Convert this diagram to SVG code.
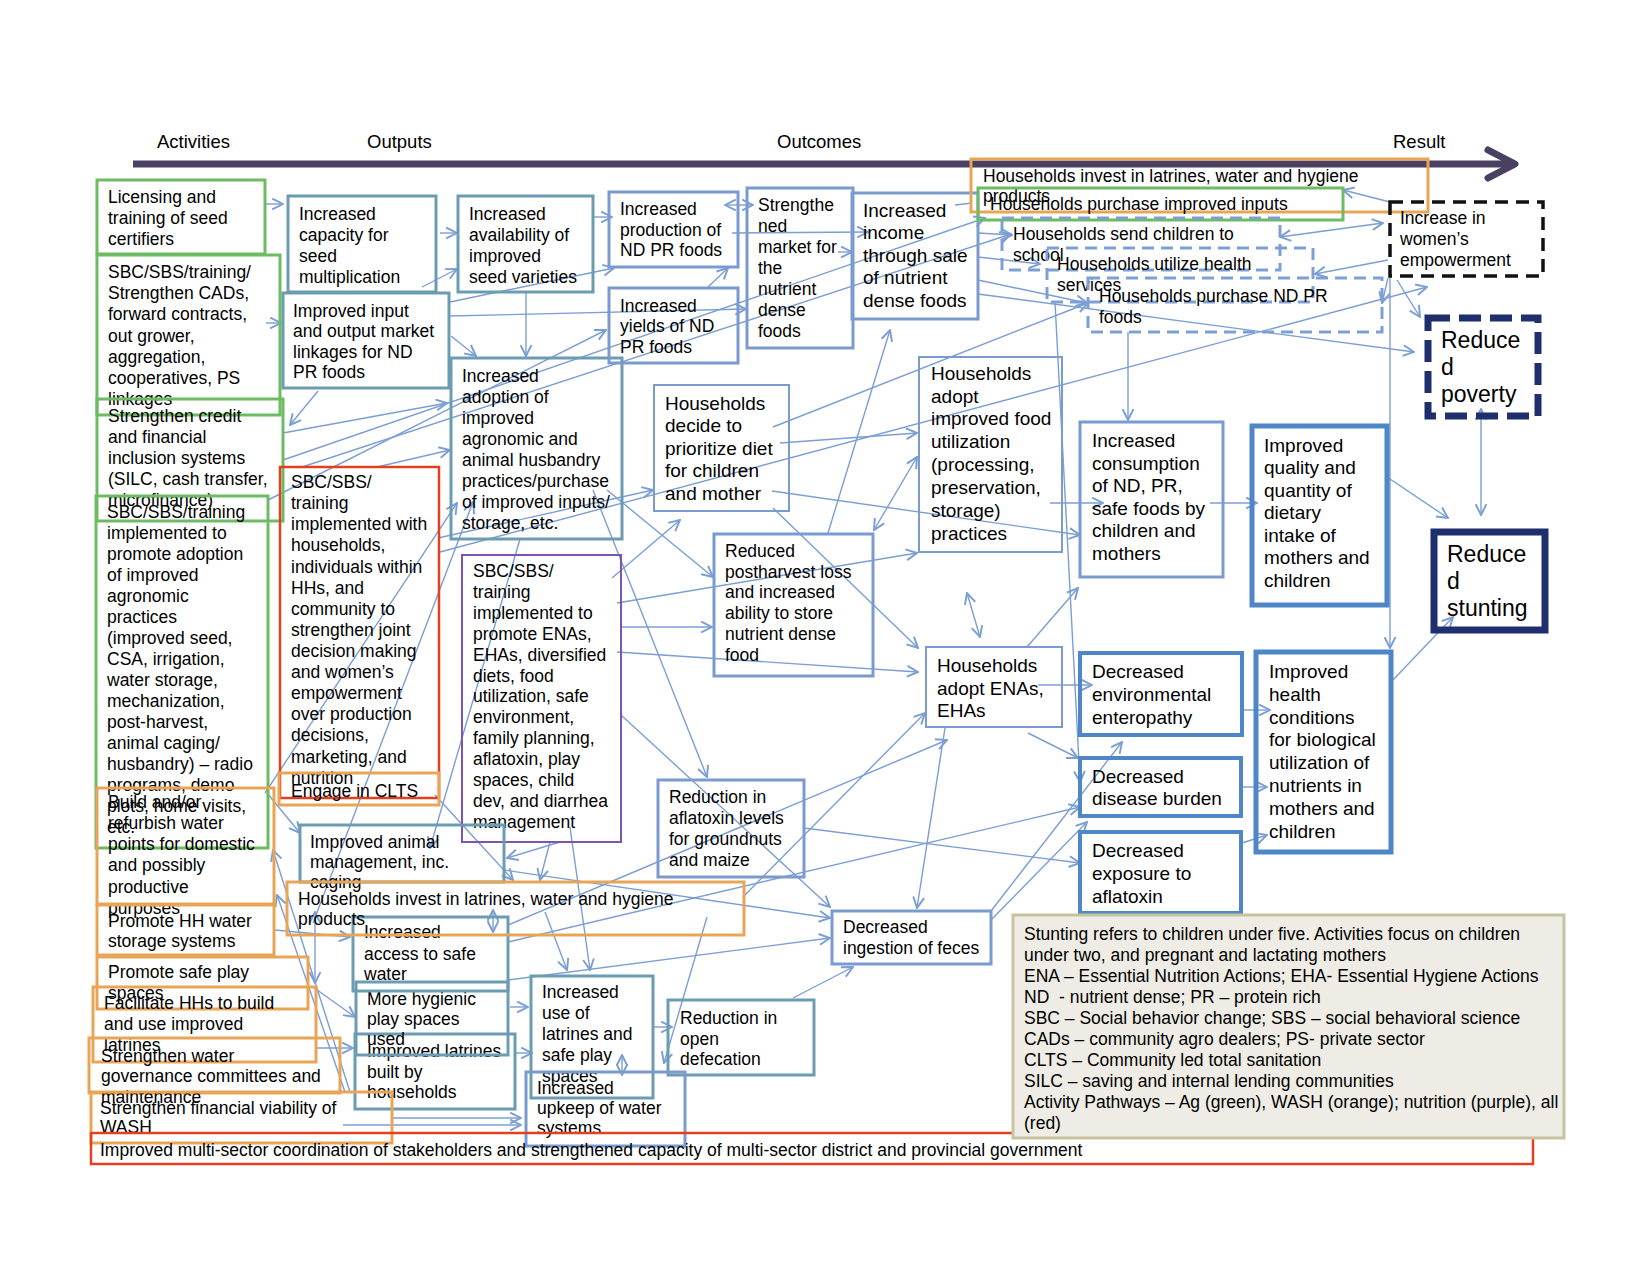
<svg xmlns="http://www.w3.org/2000/svg" width="1650" height="1275" viewBox="0 0 1650 1275">
<style>
.t{font-family:"Liberation Sans",Arial,Helvetica,sans-serif;font-size:17.5px;fill:#000}
.t19{font-size:19px}
.t23{font-size:23px}
.hd{font-size:18.5px}
.b{fill:none}
.g{stroke:#6dbb62;stroke-width:3}
.tl{stroke:#6b9cb1;stroke-width:3}
.bl{stroke:#7b9ad0;stroke-width:3}
.bl2{stroke:#7b9ad0;stroke-width:2}
.tb{stroke:#4f86c8;stroke-width:5}
.mb{stroke:#4f86c8;stroke-width:4}
.or{stroke:#e9a557;stroke-width:3}
.rd{stroke:#e2401f;stroke-width:2.5}
.pu{stroke:#7c55b4;stroke-width:2}
.ds{stroke:#7e9fd4;stroke-width:3;stroke-dasharray:12 7}
.bk{stroke:#111;stroke-width:3.5;stroke-dasharray:13 8}
.nv{stroke:#1f2f6e;stroke-width:7}
.nvd{stroke:#1f2f6e;stroke-width:7;stroke-dasharray:22 9}
.c path{stroke:#7b9ed3;stroke-width:1.4;fill:none;marker-end:url(#a)}
.c path.d{marker-start:url(#a)}
.c path.n{marker-end:none}
</style>
<defs>
<marker id="a" viewBox="0 0 12 12" refX="11" refY="6" markerWidth="13" markerHeight="13" markerUnits="userSpaceOnUse" orient="auto-start-reverse">
<path d="M1,1 L11,6 L1,11" fill="none" stroke="#7b9ed3" stroke-width="1.8"/>
</marker>
</defs>
<rect width="1650" height="1275" fill="#fff"/>

<g id="header">
<line x1="133" y1="164" x2="1512" y2="164" stroke="#4a4062" stroke-width="7"/>
<polyline points="1488,150 1515,164 1488,178" fill="none" stroke="#4a4062" stroke-width="7" stroke-linecap="round" stroke-linejoin="round"/>
<text class="t hd" x="157" y="148">Activities</text>
<text class="t hd" x="367" y="148">Outputs</text>
<text class="t hd" x="777" y="148">Outcomes</text>
<text class="t hd" x="1393" y="148">Result</text>
</g>

<g id="connectors" class="c">
<path d="M266,204 L283,204"/>
<path d="M266,323 L281,323"/>
<path d="M440,233 L457,233"/>
<path d="M422,287 L457,269"/>
<path d="M593,217 L612,217"/>
<path d="M450,302 L614,268"/>
<path d="M450,316 L746,309"/>
<path d="M451,336 L476,356"/>
<path d="M526,293 L526,356"/>
<path d="M318,391 L290,425"/>
<path d="M268,500 L606,330"/>
<path d="M708,287 L728,268"/>
<path class="d" d="M725,205 L753,205"/>
<path d="M732,233 L868,232"/>
<path d="M838,252 L852,252"/>
<path d="M283,433 L447,403"/>
<path d="M283,460 L985,218"/>
<path d="M302,467 L1011,234"/>
<path d="M377,467 L450,450"/>
<path d="M438,538 L653,490"/>
<path d="M440,552 L1427,287"/>
<path d="M265,793 L457,503"/>
<path d="M313,923 L473,502"/>
<path d="M520,539 L430,848"/>
<path d="M593,490 L707,777"/>
<path d="M607,490 L713,577"/>
<path d="M612,578 L680,520"/>
<path d="M617,603 L917,553"/>
<path d="M622,627 L712,627"/>
<path d="M617,652 L918,672"/>
<path d="M621,715 L830,907"/>
<path d="M773,508 L918,648"/>
<path d="M772,491 L1080,535"/>
<path d="M780,443 L917,433"/>
<path d="M773,427 L1088,303"/>
<path d="M828,533 L890,330"/>
<path class="d" d="M874,530 L917,457"/>
<path class="d" d="M967,593 L980,637"/>
<path d="M978,233 L1012,235"/>
<path d="M978,257 L1040,264"/>
<path d="M978,280 L1087,303"/>
<path d="M978,294 L1414,352"/>
<path class="n" d="M955,205 L972,203"/>
<path d="M1128,332 L1128,420"/>
<path d="M1055,302 L1080,782"/>
<path d="M1390,276 L1390,648"/>
<path d="M1390,202 L1343,190"/>
<path class="d" d="M1383,223 L1280,237"/>
<path d="M1388,260 L1315,274"/>
<path d="M1388,278 L1382,303"/>
<path d="M1397,280 L1420,317"/>
<path class="d" d="M1481,409 L1481,515"/>
<path d="M1387,477 L1448,518"/>
<path d="M1393,680 L1453,617"/>
<path d="M1050,503 L1103,503"/>
<path d="M1210,503 L1257,503"/>
<path d="M1027,647 L1078,588"/>
<path d="M1038,685 L1092,685"/>
<path d="M1242,710 L1270,710"/>
<path d="M1028,733 L1078,758"/>
<path d="M991,911 L1122,742"/>
<path d="M991,920 L1087,822"/>
<path d="M508,942 L1080,807"/>
<path d="M804,828 L1080,863"/>
<path d="M1242,843 L1267,835"/>
<path d="M1242,787 L1267,787"/>
<path d="M504,870 L830,918"/>
<path d="M508,980 L830,938"/>
<path d="M945,728 L917,908"/>
<path d="M793,998 L853,967"/>
<path d="M707,917 L664,1063"/>
<path d="M653,1027 L672,1027"/>
<path class="d" d="M622,1055 L622,1075"/>
<path d="M545,912 L567,970"/>
<path d="M570,827 L590,970"/>
<path d="M435,795 L513,880"/>
<path d="M550,842 L540,880"/>
<path d="M560,842 L507,858"/>
<path d="M743,897 L925,713"/>
<path d="M508,925 L947,740"/>
<path d="M267,793 L300,833"/>
<path d="M275,930 L350,937"/>
<path d="M313,987 L355,1017"/>
<path d="M316,1048 L353,1048"/>
<path d="M510,1007 L528,1007"/>
<path d="M515,1053 L532,1053"/>
<path class="d" d="M493,910 L493,932"/>
<path d="M391,1118 L521,1118"/>
<path d="M343,1125 L521,1125"/>
<path class="d" d="M315,912 L315,983"/>
<path d="M350,1092 L273,850"/>
<path d="M345,1092 L277,895"/>
</g>

<g id="n-licensing"><rect class="b g" x="97" y="180" width="168" height="74"/>
<text class="t"><tspan x="108" y="203">Licensing and</tspan><tspan x="108" y="224">training of seed</tspan><tspan x="108" y="245">certifiers</tspan></text></g>

<g id="n-cads"><rect class="b g" x="97" y="255" width="183" height="160"/>
<text class="t"><tspan x="108" y="278">SBC/SBS/training/</tspan><tspan x="108" y="299">Strengthen CADs,</tspan><tspan x="108" y="320">forward contracts,</tspan><tspan x="108" y="342">out grower,</tspan><tspan x="108" y="363">aggregation,</tspan><tspan x="108" y="384">cooperatives, PS</tspan><tspan x="108" y="405">linkages</tspan></text></g>

<g id="n-credit"><rect class="b g" x="97" y="399" width="186" height="122"/>
<text class="t"><tspan x="108" y="422">Strengthen credit</tspan><tspan x="108" y="443">and financial</tspan><tspan x="108" y="464">inclusion systems</tspan><tspan x="108" y="485">(SILC, cash transfer,</tspan><tspan x="108" y="506">microfinance)</tspan></text></g>

<g id="n-training"><rect class="b g" x="96" y="496" width="172" height="352"/>
<text class="t"><tspan x="107" y="518">SBC/SBS/training</tspan><tspan x="107" y="539">implemented to</tspan><tspan x="107" y="560">promote adoption</tspan><tspan x="107" y="581">of improved</tspan><tspan x="107" y="602">agronomic</tspan><tspan x="107" y="623">practices</tspan><tspan x="107" y="644">(improved seed,</tspan><tspan x="107" y="665">CSA, irrigation,</tspan><tspan x="107" y="686">water storage,</tspan><tspan x="107" y="707">mechanization,</tspan><tspan x="107" y="728">post-harvest,</tspan><tspan x="107" y="749">animal caging/</tspan><tspan x="107" y="770">husbandry) – radio</tspan><tspan x="107" y="791">programs, demo</tspan><tspan x="107" y="812">plots, home visits,</tspan><tspan x="107" y="833">etc.</tspan></text></g>

<g id="n-capacity"><rect class="b tl" x="288" y="196" width="148" height="96"/>
<text class="t"><tspan x="299" y="220">Increased</tspan><tspan x="299" y="241">capacity for</tspan><tspan x="299" y="262">seed</tspan><tspan x="299" y="283">multiplication</tspan></text></g>

<g id="n-availability"><rect class="b tl" x="458" y="196" width="135" height="96"/>
<text class="t"><tspan x="469" y="220">Increased</tspan><tspan x="469" y="241">availability of</tspan><tspan x="469" y="262">improved</tspan><tspan x="469" y="283">seed varieties</tspan></text></g>

<g id="n-input"><rect class="b tl" x="283" y="293" width="166" height="95"/>
<text class="t"><tspan x="293" y="317">Improved input</tspan><tspan x="293" y="337">and output market</tspan><tspan x="293" y="358">linkages for ND</tspan><tspan x="293" y="378">PR foods</tspan></text></g>

<g id="n-adoption"><rect class="b tl" x="451" y="358" width="171" height="181"/>
<text class="t"><tspan x="462" y="382">Increased</tspan><tspan x="462" y="403">adoption of</tspan><tspan x="462" y="424">improved</tspan><tspan x="462" y="445">agronomic and</tspan><tspan x="462" y="466">animal husbandry</tspan><tspan x="462" y="487">practices/purchase</tspan><tspan x="462" y="508">of improved inputs/</tspan><tspan x="462" y="529">storage, etc.</tspan></text></g>

<g id="n-sbc-households"><rect class="b rd" x="280" y="467" width="159" height="331"/>
<text class="t"><tspan x="291" y="488">SBC/SBS/</tspan><tspan x="291" y="509">training</tspan><tspan x="291" y="530">implemented with</tspan><tspan x="291" y="551">households,</tspan><tspan x="291" y="573">individuals within</tspan><tspan x="291" y="594">HHs, and</tspan><tspan x="291" y="615">community to</tspan><tspan x="291" y="636">strengthen joint</tspan><tspan x="291" y="657">decision making</tspan><tspan x="291" y="678">and women’s</tspan><tspan x="291" y="699">empowerment</tspan><tspan x="291" y="720">over production</tspan><tspan x="291" y="741">decisions,</tspan><tspan x="291" y="763">marketing, and</tspan><tspan x="291" y="784">nutrition</tspan></text></g>

<g id="n-clts"><rect class="b or" x="279" y="773" width="160" height="32"/>
<text class="t" x="291" y="797">Engage in CLTS</text></g>

<g id="n-sbc-ena"><rect class="b pu" x="462" y="555" width="159" height="287"/>
<text class="t"><tspan x="473" y="577">SBC/SBS/</tspan><tspan x="473" y="598">training</tspan><tspan x="473" y="619">implemented to</tspan><tspan x="473" y="640">promote ENAs,</tspan><tspan x="473" y="661">EHAs, diversified</tspan><tspan x="473" y="682">diets, food</tspan><tspan x="473" y="702">utilization, safe</tspan><tspan x="473" y="723">environment,</tspan><tspan x="473" y="744">family planning,</tspan><tspan x="473" y="765">aflatoxin, play</tspan><tspan x="473" y="786">spaces, child</tspan><tspan x="473" y="807">dev, and diarrhea</tspan><tspan x="473" y="828">management</tspan></text></g>

<g id="n-production"><rect class="b bl" x="609" y="192" width="129" height="75"/>
<text class="t"><tspan x="620" y="215">Increased</tspan><tspan x="620" y="236">production of</tspan><tspan x="620" y="256">ND PR foods</tspan></text></g>

<g id="n-yields"><rect class="b bl" x="609" y="288" width="129" height="75"/>
<text class="t"><tspan x="620" y="312">Increased</tspan><tspan x="620" y="332">yields of ND</tspan><tspan x="620" y="353">PR foods</tspan></text></g>

<g id="n-market"><rect class="b bl" x="747" y="188" width="106" height="160"/>
<text class="t"><tspan x="758" y="211">Strengthe</tspan><tspan x="758" y="232">ned</tspan><tspan x="758" y="253">market for</tspan><tspan x="758" y="274">the</tspan><tspan x="758" y="295">nutrient</tspan><tspan x="758" y="316">dense</tspan><tspan x="758" y="337">foods</tspan></text></g>

<g id="n-income"><rect class="b bl" x="852" y="193" width="126" height="126"/>
<text class="t t19"><tspan x="863" y="217">Increased</tspan><tspan x="863" y="239">income</tspan><tspan x="863" y="262">through sale</tspan><tspan x="863" y="284">of nutrient</tspan><tspan x="863" y="307">dense foods</tspan></text></g>

<g id="n-decide"><rect class="b bl2" x="654" y="385" width="135" height="126"/>
<text class="t t19"><tspan x="665" y="410">Households</tspan><tspan x="665" y="432">decide to</tspan><tspan x="665" y="455">prioritize diet</tspan><tspan x="665" y="477">for children</tspan><tspan x="665" y="500">and mother</tspan></text></g>

<g id="n-foodutil"><rect class="b bl2" x="919" y="357" width="143" height="195"/>
<text class="t t19"><tspan x="931" y="380">Households</tspan><tspan x="931" y="403">adopt</tspan><tspan x="931" y="425">improved food</tspan><tspan x="931" y="448">utilization</tspan><tspan x="931" y="471">(processing,</tspan><tspan x="931" y="494">preservation,</tspan><tspan x="931" y="517">storage)</tspan><tspan x="931" y="540">practices</tspan></text></g>

<g id="n-postharvest"><rect class="b bl" x="714" y="534" width="159" height="142"/>
<text class="t"><tspan x="725" y="557">Reduced</tspan><tspan x="725" y="578">postharvest loss</tspan><tspan x="725" y="598">and increased</tspan><tspan x="725" y="619">ability to store</tspan><tspan x="725" y="640">nutrient dense</tspan><tspan x="725" y="661">food</tspan></text></g>

<g id="n-enas"><rect class="b bl2" x="926" y="647" width="136" height="80"/>
<text class="t t19"><tspan x="937" y="672">Households</tspan><tspan x="937" y="695">adopt ENAs,</tspan><tspan x="937" y="717">EHAs</tspan></text></g>

<g id="n-aflatoxin-levels"><rect class="b bl" x="658" y="780" width="146" height="97"/>
<text class="t"><tspan x="669" y="803">Reduction in</tspan><tspan x="669" y="824">aflatoxin levels</tspan><tspan x="669" y="845">for groundnuts</tspan><tspan x="669" y="866">and maize</tspan></text></g>

<g id="n-ingestion"><rect class="b bl" x="832" y="911" width="159" height="53"/>
<text class="t"><tspan x="843" y="933">Decreased</tspan><tspan x="843" y="954">ingestion of feces</tspan></text></g>

<g id="n-opendef"><rect class="b tl" x="668" y="1000" width="146" height="75"/>
<text class="t"><tspan x="680" y="1024">Reduction in</tspan><tspan x="680" y="1045">open</tspan><tspan x="680" y="1065">defecation</tspan></text></g>

<g id="n-use-latrines"><rect class="b tl" x="531" y="976" width="122" height="122"/>
<text class="t"><tspan x="542" y="998">Increased</tspan><tspan x="542" y="1019">use of</tspan><tspan x="542" y="1040">latrines and</tspan><tspan x="542" y="1061">safe play</tspan><tspan x="542" y="1082">spaces</tspan></text></g>

<g id="n-upkeep"><rect class="b bl" x="526" y="1072" width="159" height="74"/>
<text class="t"><tspan x="537" y="1094">Increased</tspan><tspan x="537" y="1114">upkeep of water</tspan><tspan x="537" y="1134">systems</tspan></text></g>

<g id="n-latrines-built"><rect class="b tl" x="355" y="1034" width="160" height="75"/>
<text class="t"><tspan x="367" y="1057">Improved latrines</tspan><tspan x="367" y="1078">built by</tspan><tspan x="367" y="1098">households</tspan></text></g>

<g id="n-hygienic"><rect class="b tl" x="356" y="982" width="152" height="73"/>
<text class="t"><tspan x="367" y="1005">More hygienic</tspan><tspan x="367" y="1025">play spaces</tspan><tspan x="367" y="1045">used</tspan></text></g>

<g id="n-water-access"><rect class="b tl" x="353" y="917" width="155" height="74"/>
<text class="t"><tspan x="364" y="938">Increased</tspan><tspan x="364" y="960">access to safe</tspan><tspan x="364" y="980">water</tspan></text></g>

<g id="n-animal"><rect class="b tl" x="300" y="825" width="204" height="57"/>
<text class="t"><tspan x="310" y="848">Improved animal</tspan><tspan x="310" y="868">management, inc.</tspan><tspan x="310" y="888">caging</tspan></text></g>

<g id="n-invest-low"><rect class="b or" x="287" y="882" width="457" height="53"/>
<text class="t"><tspan x="298" y="905">Households invest in latrines, water and hygiene</tspan><tspan x="298" y="925">products</tspan></text></g>

<g id="n-waterpoints"><rect class="b or" x="97" y="788" width="177" height="116"/>
<text class="t"><tspan x="108" y="808">Build and/or</tspan><tspan x="108" y="829">refurbish water</tspan><tspan x="108" y="850">points for domestic</tspan><tspan x="108" y="871">and possibly</tspan><tspan x="108" y="893">productive</tspan><tspan x="108" y="914">purposes</tspan></text></g>

<g id="n-storage"><rect class="b or" x="97" y="905" width="177" height="50"/>
<text class="t"><tspan x="108" y="927">Promote HH water</tspan><tspan x="108" y="947">storage systems</tspan></text></g>

<g id="n-safeplay"><rect class="b or" x="97" y="957" width="211" height="52"/>
<text class="t"><tspan x="108" y="978">Promote safe play</tspan><tspan x="108" y="999">spaces</tspan></text></g>

<g id="n-facilitate"><rect class="b or" x="93" y="987" width="223" height="75"/>
<text class="t"><tspan x="104" y="1009">Facilitate HHs to build</tspan><tspan x="104" y="1030">and use improved</tspan><tspan x="104" y="1051">latrines</tspan></text></g>

<g id="n-governance"><rect class="b or" x="89" y="1038" width="251" height="55"/>
<text class="t"><tspan x="101" y="1062">Strengthen water</tspan><tspan x="101" y="1082">governance committees and</tspan><tspan x="101" y="1103">maintenance</tspan></text></g>

<g id="n-financial"><rect class="b or" x="91" y="1092" width="301" height="51"/>
<text class="t"><tspan x="100" y="1114">Strengthen financial viability of</tspan><tspan x="100" y="1133">WASH</tspan></text></g>

<g id="n-coordination"><rect class="b rd" x="91" y="1133" width="1442" height="31"/>
<text class="t" x="100" y="1156">Improved multi-sector coordination of stakeholders and strengthened capacity of multi-sector district and provincial government</text></g>

<g id="n-invest-top"><rect class="b or" x="971" y="159" width="457" height="53"/>
<text class="t"><tspan x="983" y="182">Households invest in latrines, water and hygiene</tspan><tspan x="983" y="202">products</tspan></text></g>

<g id="n-purchase-inputs"><rect class="b g" x="978" y="188" width="365" height="32"/>
<text class="t" x="990" y="210">Households purchase improved inputs</text></g>

<g id="n-school"><rect class="b ds" x="1002" y="218" width="278" height="52"/>
<text class="t"><tspan x="1013" y="240">Households send children to</tspan><tspan x="1013" y="261">school</tspan></text></g>

<g id="n-health-services"><rect class="b ds" x="1047" y="248" width="266" height="54"/>
<text class="t"><tspan x="1057" y="270">Households utilize health</tspan><tspan x="1057" y="291">services</tspan></text></g>

<g id="n-purchase-nd"><rect class="b ds" x="1088" y="278" width="294" height="54"/>
<text class="t"><tspan x="1099" y="302">Households purchase ND PR</tspan><tspan x="1099" y="323">foods</tspan></text></g>

<g id="n-empowerment"><rect class="b bk" x="1390" y="202" width="153" height="74"/>
<text class="t"><tspan x="1400" y="224">Increase in</tspan><tspan x="1400" y="245">women’s</tspan><tspan x="1400" y="266">empowerment</tspan></text></g>

<g id="n-poverty"><rect class="b nvd" x="1428" y="318" width="110" height="98"/>
<text class="t t23"><tspan x="1441" y="348">Reduce</tspan><tspan x="1441" y="375">d</tspan><tspan x="1441" y="402">poverty</tspan></text></g>

<g id="n-stunting"><rect class="b nv" x="1434" y="532" width="111" height="98"/>
<text class="t t23"><tspan x="1447" y="562">Reduce</tspan><tspan x="1447" y="589">d</tspan><tspan x="1447" y="616">stunting</tspan></text></g>

<g id="n-consumption"><rect class="b bl" x="1080" y="422" width="143" height="155"/>
<text class="t t19"><tspan x="1092" y="447">Increased</tspan><tspan x="1092" y="470">consumption</tspan><tspan x="1092" y="492">of ND, PR,</tspan><tspan x="1092" y="515">safe foods by</tspan><tspan x="1092" y="537">children and</tspan><tspan x="1092" y="560">mothers</tspan></text></g>

<g id="n-quality"><rect class="b tb" x="1252" y="426" width="135" height="179"/>
<text class="t t19"><tspan x="1264" y="452">Improved</tspan><tspan x="1264" y="474">quality and</tspan><tspan x="1264" y="497">quantity of</tspan><tspan x="1264" y="519">dietary</tspan><tspan x="1264" y="542">intake of</tspan><tspan x="1264" y="564">mothers and</tspan><tspan x="1264" y="587">children</tspan></text></g>

<g id="n-enteropathy"><rect class="b mb" x="1080" y="653" width="162" height="82"/>
<text class="t t19"><tspan x="1092" y="678">Decreased</tspan><tspan x="1092" y="701">environmental</tspan><tspan x="1092" y="724">enteropathy</tspan></text></g>

<g id="n-health-cond"><rect class="b tb" x="1256" y="652" width="135" height="200"/>
<text class="t t19"><tspan x="1269" y="678">Improved</tspan><tspan x="1269" y="701">health</tspan><tspan x="1269" y="724">conditions</tspan><tspan x="1269" y="746">for biological</tspan><tspan x="1269" y="769">utilization of</tspan><tspan x="1269" y="792">nutrients in</tspan><tspan x="1269" y="815">mothers and</tspan><tspan x="1269" y="838">children</tspan></text></g>

<g id="n-disease"><rect class="b mb" x="1080" y="758" width="161" height="58"/>
<text class="t t19"><tspan x="1092" y="783">Decreased</tspan><tspan x="1092" y="805">disease burden</tspan></text></g>

<g id="n-exposure"><rect class="b mb" x="1080" y="832" width="161" height="81"/>
<text class="t t19"><tspan x="1092" y="857">Decreased</tspan><tspan x="1092" y="880">exposure to</tspan><tspan x="1092" y="903">aflatoxin</tspan></text></g>

<g id="legend"><rect x="1013" y="915" width="551" height="223" fill="#eeece4" stroke="#c8c39f" stroke-width="3"/>
<text class="t" xml:space="preserve"><tspan x="1024" y="940">Stunting refers to children under five. Activities focus on children</tspan><tspan x="1024" y="961">under two, and pregnant and lactating mothers</tspan><tspan x="1024" y="982">ENA – Essential Nutrition Actions; EHA- Essential Hygiene Actions</tspan><tspan x="1024" y="1003">ND  - nutrient dense; PR – protein rich</tspan><tspan x="1024" y="1024">SBC – Social behavior change; SBS – social behavioral science</tspan><tspan x="1024" y="1045">CADs – community agro dealers; PS- private sector</tspan><tspan x="1024" y="1066">CLTS – Community led total sanitation</tspan><tspan x="1024" y="1087">SILC – saving and internal lending communities</tspan><tspan x="1024" y="1108">Activity Pathways – Ag (green), WASH (orange); nutrition (purple), all</tspan><tspan x="1024" y="1129">(red)</tspan></text></g>
</svg>
